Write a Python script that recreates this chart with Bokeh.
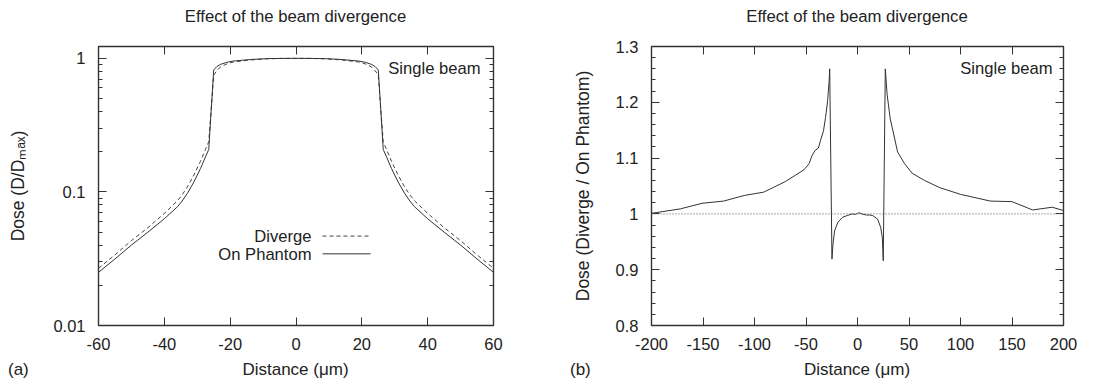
from bokeh.plotting import figure
from bokeh.layouts import row, column
from bokeh.models import FixedTicker, LinearAxis, LogAxis, Label, Span, Range1d, Div
from bokeh.embed import file_html
from bokeh.resources import INLINE

FONT = "Liberation Sans"
INK = "#222222"
FRAME = "#333333"

# ---------------- Panel (a): dose profiles (log scale) ----------------
dist_a = [-60, -55, -50, -45, -40, -36, -34.6, -33, -31, -29, -27.5, -26.5, -25, -24, -23, -21, -19, -14, -9, -4,
          0,
          4, 9, 14, 19, 21, 23, 24, 25, 26.5, 27.5, 29, 31, 33, 34.6, 36, 40, 45, 50, 55, 60]
on_phantom = [0.025, 0.0315, 0.040, 0.050, 0.063, 0.0775, 0.0855, 0.0975, 0.119, 0.150, 0.183, 0.208, 0.82, 0.87,
              0.90, 0.935, 0.955, 0.98, 0.995, 1.0,
              1.0,
              1.0, 0.995, 0.98, 0.955, 0.935, 0.90, 0.87, 0.82, 0.208, 0.183, 0.150, 0.119, 0.0975, 0.0855, 0.0775,
              0.063, 0.050, 0.040, 0.0315, 0.025]
diverge = [0.0268, 0.0338, 0.0432, 0.054, 0.069, 0.086, 0.095, 0.109, 0.134, 0.170, 0.208, 0.238, 0.75, 0.81,
           0.86, 0.91, 0.94, 0.972, 0.992, 0.999,
           1.0,
           0.999, 0.992, 0.972, 0.94, 0.91, 0.86, 0.81, 0.75, 0.238, 0.208, 0.170, 0.134, 0.109, 0.095, 0.086,
           0.069, 0.054, 0.0432, 0.0338, 0.0268]
a_x_ticks = [-60, -40, -20, 0, 20, 40, 60]
a_x_tick_labels = ["-60", "-40", "-20", "0", "20", "40", "60"]
a_y_ticks = [0.01, 0.1, 1]
a_y_tick_labels = ["0.01", "0.1", "1"]
a_y_minor = [0.02, 0.03, 0.04, 0.05, 0.06, 0.07, 0.08, 0.09, 0.2, 0.3, 0.4, 0.5, 0.6, 0.7, 0.8, 0.9]
a_legend = ["Diverge", "On Phantom"]

# ---------------- Panel (b): ratio Diverge / On Phantom ----------------
dist_b = [-200, -172, -151, -130, -110, -91, -70, -52, -47, -44, -41, -38, -36, -33, -31, -29, -27.5, -27, -24.8,
          -23.8, -22.2, -19, -14.5, -10, -5, -2, 0, 2, 4, 8.6, 12, 14.8, 19.4, 22.5, 24.1, 25, 27, 28.7, 31.8,
          34.9, 38.9, 45.7, 53, 65, 80, 100, 129, 150, 170, 189, 200]
ratio = [1.001, 1.009, 1.019, 1.023, 1.033, 1.039, 1.058, 1.079, 1.09, 1.105, 1.114, 1.118, 1.131, 1.149, 1.173,
         1.203, 1.239, 1.26, 0.919, 0.946, 0.970, 0.985, 0.994, 0.997, 1.0, 0.999, 1.001, 1.002, 1.0, 0.998, 0.998,
         0.997, 0.991, 0.976, 0.958, 0.916, 1.26, 1.215, 1.17, 1.145, 1.111, 1.09, 1.073, 1.06, 1.047, 1.035,
         1.023, 1.022, 1.007, 1.012, 1.006]
b_x_ticks = [-200, -150, -100, -50, 0, 50, 100, 150, 200]
b_x_tick_labels = ["-200", "-150", "-100", "-50", "0", "50", "100", "150", "200"]
b_y_ticks = [0.8, 0.9, 1.0, 1.1, 1.2, 1.3]
b_y_tick_labels = ["0.8", "0.9", "1", "1.1", "1.2", "1.3"]
b_y_minor = [0.82, 0.84, 0.86, 0.88, 0.92, 0.94, 0.96, 0.98, 1.02, 1.04, 1.06, 1.08,
             1.12, 1.14, 1.16, 1.18, 1.22, 1.24, 1.26, 1.28]

TITLE = "Effect of the beam divergence"
X_LABEL = "Distance (\u03bcm)"
PANEL_TAGS = ["(a)", "(b)"]


def style_axis(ax, ticks, labels=None):
    ax.axis_line_color = None
    ax.major_tick_in = 8
    ax.major_tick_out = 0
    ax.minor_tick_in = 4
    ax.minor_tick_out = 0
    ax.major_tick_line_color = FRAME
    ax.minor_tick_line_color = FRAME
    ax.major_tick_line_width = 1
    ax.minor_tick_line_width = 1
    ax.major_label_text_font = FONT
    ax.major_label_text_color = INK
    ax.axis_label_text_font = FONT
    ax.axis_label_text_font_style = "normal"
    ax.axis_label_text_color = INK
    if labels is not None:
        ax.axis_label_text_font_size = "17.5px"
        ax.major_label_text_font_size = "16.5px"
        ax.major_label_overrides = dict(zip(ticks, labels))
    else:
        # mirrored tick-only axis (gnuplot style frame ticks)
        ax.axis_label_text_font_size = "1px"
        ax.axis_label_standoff = 0
        ax.major_label_text_font_size = "1px"
        ax.major_label_overrides = {t: "" for t in ticks}
        ax.major_label_standoff = 0


def base_fig(width, x_range, y_range, y_type, borders):
    p = figure(width=width, height=334, x_range=x_range, y_range=y_range, y_axis_type=y_type,
               title=None, output_backend="svg", toolbar_location=None,
               min_border_left=borders[0], min_border_right=borders[1],
               min_border_top=borders[2], min_border_bottom=borders[3])
    p.xgrid.visible = False
    p.ygrid.visible = False
    p.outline_line_color = FRAME
    p.outline_line_width = 1.4
    p.background_fill_color = "white"
    p.border_fill_color = "white"
    return p


def txt(p, x, y, text, align="center", size="16.6px"):
    p.add_layout(Label(x=x, y=y, text=text, text_align=align, text_baseline="middle",
                       text_font=FONT, text_font_size=size, text_color=INK))


def title_div(width, center):
    html = (
        f'<div style="position:relative;width:{width}px;height:26px;font-family:\'{FONT}\',sans-serif;'
        f'font-size:16.7px;color:{INK};">'
        f'<span style="position:absolute;left:{center}px;top:7px;line-height:20px;white-space:nowrap;'
        f'transform:translateX(-50%);">{TITLE}</span></div>'
    )
    return Div(text=html, width=width, height=26, margin=0)


def bottom_div(width, tag, tag_left, center):
    html = (
        f'<div style="position:relative;width:{width}px;height:24px;font-family:\'{FONT}\',sans-serif;'
        f'font-size:17px;color:{INK};">'
        f'<span style="position:absolute;left:{tag_left}px;top:0;line-height:20px;white-space:nowrap;">{tag}</span>'
        f'<span style="position:absolute;left:{center}px;top:0;line-height:20px;white-space:nowrap;'
        f'transform:translateX(-50%);">{X_LABEL}</span></div>'
    )
    return Div(text=html, width=width, height=24, margin=0)


# ---------- figure (a) ----------
pa = base_fig(560, Range1d(-60, 60), Range1d(0.01, 1.227), "log", (98, 67, 17, 35))
pa.line(dist_a, diverge, line_color="#444444", line_width=1, line_dash="4 3")
pa.line(dist_a, on_phantom, line_color="#333333", line_width=1)

xa = pa.xaxis[0]
xa.ticker = FixedTicker(ticks=a_x_ticks, minor_ticks=[])
style_axis(xa, a_x_ticks, a_x_tick_labels)
xa.major_label_standoff = 12

ya = pa.yaxis[0]
ya.ticker = FixedTicker(ticks=a_y_ticks, minor_ticks=a_y_minor)
style_axis(ya, a_y_ticks, a_y_tick_labels)
ya.major_label_standoff = 13
ya.axis_label = "Dose (D/D\u2098\u2090\u2093)"
ya.axis_label_standoff = 22

ta = LinearAxis(ticker=FixedTicker(ticks=a_x_ticks, minor_ticks=[]))
style_axis(ta, a_x_ticks)
pa.add_layout(ta, "above")
ra = LogAxis(ticker=FixedTicker(ticks=a_y_ticks, minor_ticks=a_y_minor))
style_axis(ra, a_y_ticks)
pa.add_layout(ra, "right")

txt(pa, 56.05, 0.843, "Single beam", align="right")
# legend (gnuplot style: label then sample)
txt(pa, 4.71, 0.0464, a_legend[0], align="right")
txt(pa, 4.71, 0.0341, a_legend[1], align="right")
pa.segment(x0=[8.05], y0=[0.0467], x1=[22.63], y1=[0.0467], line_color="#444444", line_width=1, line_dash="4 3")
pa.segment(x0=[8.05], y0=[0.0344], x1=[22.63], y1=[0.0344], line_color="#333333", line_width=1)

# ---------- figure (b) ----------
pb = base_fig(548, Range1d(-200, 200), Range1d(0.8, 1.3), "linear", (91, 45, 20, 35))
pb.add_layout(Span(location=1.0, dimension="width", line_color="#555555", line_width=1, line_dash="1 2"))
pb.line(dist_b, ratio, line_color="#333333", line_width=1)

xb = pb.xaxis[0]
xb.ticker = FixedTicker(ticks=b_x_ticks, minor_ticks=[])
style_axis(xb, b_x_ticks, b_x_tick_labels)
xb.major_label_standoff = 12

yb = pb.yaxis[0]
yb.ticker = FixedTicker(ticks=b_y_ticks, minor_ticks=b_y_minor)
style_axis(yb, b_y_ticks, b_y_tick_labels)
yb.major_label_standoff = 13
yb.axis_label = "Dose (Diverge / On Phantom)"
yb.axis_label_standoff = 20

tb = LinearAxis(ticker=FixedTicker(ticks=b_x_ticks, minor_ticks=[]))
style_axis(tb, b_x_ticks)
pb.add_layout(tb, "above")
rb = LinearAxis(ticker=FixedTicker(ticks=b_y_ticks, minor_ticks=b_y_minor))
style_axis(rb, b_y_ticks)
pb.add_layout(rb, "right")

txt(pb, 189.3, 1.26, "Single beam", align="right")

top_row = row(title_div(560, 295.5), title_div(548, 297))
bottom_row = row(bottom_div(560, PANEL_TAGS[0], 8, 295.5), bottom_div(548, PANEL_TAGS[1], 10, 297))

layout = column(top_row, row(pa, pb), bottom_row)
open("out.html", "w").write(file_html(layout, INLINE))
